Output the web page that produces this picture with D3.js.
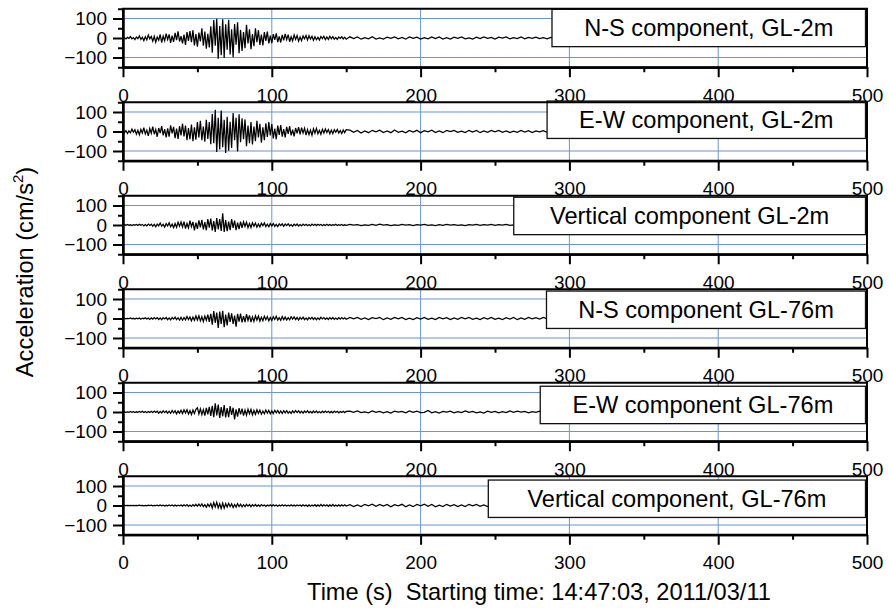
<!DOCTYPE html>
<html><head><meta charset="utf-8">
<script src="https://cdn.jsdelivr.net/npm/d3@7"></script>
<style>
body{margin:0;background:#fff}
svg{display:block}
text{font-family:"Liberation Sans",Arial,Helvetica,sans-serif;fill:#000}
</style>
</head><body><svg id="c" width="889" height="608"></svg>
<script>
// ---------------- data ----------------
const panelLabels = ["N-S component, GL-2m","E-W component, GL-2m","Vertical component GL-2m",
  "N-S component GL-76m","E-W component GL-76m","Vertical component, GL-76m"];
const xTicks = [0,100,200,300,400,500];
const xMinorTicks = [50,150,250,350,450];
const yTicks = [-100,0,100];
const yMinorTicks = [-150,-50,50,150];
const xLabel = "Time (s)  Starting time: 14:47:03, 2011/03/11";
const yLabel = "Acceleration (cm/s";
// sample times (s): 1 s steps to 150 s, then 2.5 s steps to 500 s
const headTimes = d3.range(0,151,1);
const tailTimes = d3.range(152.5,500.01,2.5);

const ns2Head = [0,2,-5,3,-2,7,-4,2,-8,5,
 -3,11,-7,4,-13,6,-9,15,-4,8,
 -16,9,-21,5,-11,18,-24,10,-14,22,
 -8,19,-25,12,-20,26,-11,34,-18,9,
 -28,17,-35,30,-15,36,-22,40,-38,20,
 -45,28,-18,50,-40,33,-55,22,-48,60,
 -75,92,-40,98,-106,62,-88,96,-102,70,
 -60,94,-85,45,-98,72,-35,80,-78,42,
 -66,30,-52,68,-28,44,-58,20,-42,50,
 -22,40,-35,18,-38,30,-15,33,-28,12,
 -26,20,-10,24,-21,8,-23,16,-12,21,
 -9,17,-19,6,-15,16,-7,13,-16,5,
 -14,11,-4,13,-10,12,-5,9,-12,6,
 -9,4,-10,8,-3,9,-8,5,-7,9,
 -4,7,-6,3,-7,5,-2,6,-5,4,-6];
const ns2Tail = [6,-3,5,-6,2,-4,7,-5,1,-5,
 4,-2,6,-4,3,-6,5,-2,4,-5,
 2,-4,6,-3,5,-5,2,-6,4,-2,
 5,-4,1,-5,4,-3,6,-2,3,-5,
 4,-1,5,-4,2,-3,5,-4,3,-2,
 4,-3,2,-4,3,-1,4,-3,2,-4,
 3,-2,4,-3,1,-3,4,-2,3,-3,
 2,-4,3,-1,3,-3,2,-3,4,-2,
 3,-3,1,-3,3,-2,3,-4,2,-2,
 3,-2,3,-3,1,-3,3,-2,3,-2,
 2,-3,3,-2,3,-1,3,-3,2,-3,
 3,-2,2,-3,3,-2,1,-3,3,-2,
 2,-3,3,-2,3,-3,2,-2,3,-1,
 3,-2,2,-3,3,-2,3,-2,2,-3];

const ew2Head = [1,-6,4,-10,3,-7,12,-4,9,-14,
 6,-17,11,-8,20,-12,7,-22,15,-9,
 25,-14,10,-27,18,-8,28,-20,12,-30,
 16,-26,32,-10,24,-34,15,-38,28,-20,
 40,-25,30,-44,18,-40,36,-50,22,-42,
 48,-30,55,-45,25,-52,60,-38,48,-65,
 90,-60,112,-105,70,-92,108,-80,60,-110,
 75,-98,50,-85,95,-45,70,-102,88,-55,
 68,-40,62,-75,30,-60,48,-66,25,-50,
 55,-30,40,-58,22,-45,42,-28,48,-20,
 38,-35,15,-40,30,-18,33,-26,12,-30,
 24,-12,27,-20,9,-25,18,-10,22,-15,
 20,-8,17,-18,10,-16,7,-19,14,-9,
 16,-12,6,-14,11,-8,13,-5,10,-12,
 7,-11,9,-4,10,-8,5,-10,8,-6,9];
const ew2Tail = [7,-4,5,-8,3,-6,6,-2,7,-5,
 3,-6,8,-4,2,-7,5,-3,6,-6,
 4,-2,7,-5,3,-6,5,-1,6,-4,
 2,-5,6,-3,5,-6,3,-4,5,-2,
 6,-4,3,-5,2,-4,5,-3,4,-5,
 3,-2,4,-4,1,-3,4,-3,2,-4,
 3,-1,4,-3,2,-4,3,-2,3,-3,
 4,-2,2,-3,3,-1,3,-3,2,-3,
 3,-2,3,-3,1,-3,3,-2,3,-2,
 2,-3,3,-2,3,-3,2,-2,3,-1,
 3,-2,2,-3,3,-2,1,-3,3,-2,
 2,-3,3,-2,3,-2,2,-3,3,-2,
 3,-1,3,-3,2,-2,3,-2,2,-3,
 3,-2,2,-3,3,-2,3,-2,2,-3];

const vert2Head = [0,2,-1,3,-2,1,-3,2,-1,3,
 -2,4,-1,3,-5,2,-4,5,-2,4,
 -6,3,-9,5,-4,10,-6,3,-11,7,
 -5,11,-9,4,-13,8,-12,14,-6,15,
 -10,17,-19,8,-15,22,-9,16,-28,12,
 -20,24,-12,26,-22,15,-27,30,-14,33,
 -28,20,-35,36,-22,30,-30,60,-36,25,
 -32,18,-27,30,-15,22,-26,12,-21,17,
 -14,16,-8,15,-14,7,-13,11,-6,10,
 -11,5,-10,9,-4,10,-8,4,-9,7,
 -5,8,-7,3,-8,6,-3,6,-7,5,
 -3,6,-5,2,-6,4,-3,5,-5,2,
 -4,5,-2,4,-4,2,-4,5,-2,4,
 -3,4,-1,3,-4,2,-3,4,-2,3,
 -3,2,-1,4,-3,2,-2,3,-3,1,-2];
const vert2Tail = [3,-1,2,-3,1,-2,3,-2,4,-1,
 2,-3,1,-2,3,-1,2,-3,2,-1,
 3,-2,1,-3,2,-2,3,-1,2,-2,
 1,-3,2,-1,3,-2,2,-1,3,-2,
 2,-1,3,-2,1,-2,2,-3,1,-2,
 2,-1,2,-2,3,-1,2,-2,1,-2,
 2,-3,1,-2,2,-1,2,-2,3,-1,
 2,-2,1,-2,2,-1,2,-3,1,-2,
 2,-1,3,-2,1,-2,2,-1,2,-2,
 1,-2,2,-1,2,-3,1,-2,2,-1,
 3,-2,1,-2,2,-1,2,-2,1,-3,
 2,-1,2,-2,3,-1,2,-2,1,-2,
 2,-1,2,-3,1,-2,2,-1,2,-2,
 1,-2,2,-1,2,-2,3,-1,2,-2];

const ns76Head = [0,1,-2,1,-1,3,-2,1,-3,2,
 -2,3,-4,2,-1,4,-3,2,-5,3,
 -3,5,-2,4,-5,3,-6,4,-2,5,
 -6,3,-7,5,-3,7,-6,4,-8,6,
 -9,5,-7,10,-6,8,-12,7,-9,13,
 -8,14,-12,9,-16,12,-10,20,-17,24,
 -32,38,-22,30,-48,35,-28,40,-44,20,
 -36,30,-18,26,-28,15,-42,24,-16,25,
 -20,12,-18,22,-10,16,-19,8,-15,14,
 -8,13,-14,7,-11,12,-6,10,-12,5,
 -10,9,-5,11,-8,4,-9,10,-6,7,
 -8,4,-7,9,-3,8,-6,5,-8,6,
 -4,7,-6,3,-7,5,-3,6,-5,4,
 -6,3,-5,6,-2,5,-4,3,-5,4,
 -3,5,-4,2,-5,4,-3,5,-2,4,-4];
const ns76Tail = [5,-2,6,-4,3,-6,4,-1,5,-6,
 3,-4,6,-2,5,-5,2,-6,4,-3,
 6,-4,2,-5,5,-2,4,-6,3,-4,
 5,-2,6,-4,2,-5,4,-3,6,-4,
 2,-5,4,-3,5,-6,3,-4,5,-2,
 4,-3,5,-2,4,-3,2,-4,3,-4,
 4,-2,3,-4,2,-3,4,-2,3,-3,
 2,-4,3,-1,3,-4,2,-3,4,-2,
 3,-3,2,-3,3,-2,3,-4,2,-2,
 3,-2,3,-3,2,-3,3,-2,3,-2,
 2,-3,3,-2,3,-1,3,-3,2,-3,
 3,-2,2,-3,3,-2,1,-3,3,-2,
 2,-3,3,-2,3,-3,2,-2,3,-1,
 3,-2,2,-3,3,-2,3,-2,2,-3];

const ew76Head = [0,1,-2,1,-2,3,-1,2,-3,1,
 -2,3,-1,4,-3,2,-4,3,-2,4,
 -3,5,-2,4,-6,3,-5,6,-3,5,
 -6,4,-7,8,-4,7,-9,5,-6,9,
 -8,11,-5,12,-10,7,-13,10,-8,14,
 22,-10,16,-14,12,-18,21,-12,26,-20,
 32,-26,45,-18,38,-30,25,-22,35,-28,
 20,-26,30,-15,22,-38,14,-24,20,-12,
 17,-18,10,-16,14,-9,13,-15,8,-12,
 11,-7,10,-11,5,-9,10,-6,8,-9,
 6,-8,9,-4,8,-7,5,-8,7,-4,
 7,-6,3,-7,6,-4,7,-3,6,-5,
 4,-6,5,-3,6,-4,3,-5,5,-3,
 5,-4,2,-5,4,-3,5,-2,4,-4,
 3,-4,5,-2,4,-4,3,-2,4,-3,3];
const ew76Tail = [4,-2,5,-3,1,-4,5,-2,3,-4,
 2,-5,4,-1,3,-4,5,-2,4,-3,
 -2,8,-4,2,-5,3,-1,4,-4,2,
 -3,5,-2,3,-4,1,-5,4,-2,3,
 -4,2,-3,5,-2,4,-1,3,-4,2,
 -2,4,-3,1,-4,3,-2,4,-3,1,
 -3,2,-4,3,-1,3,-3,4,-2,2,
 -3,1,-3,4,-2,3,-3,2,-1,3,
 -3,2,-2,3,-3,1,-3,2,-3,3,
 -2,3,-1,3,-3,2,-3,3,-2,1,
 -3,2,-3,3,-2,3,-1,2,-3,3,
 -2,3,-3,1,-2,3,-3,2,-3,2,
 -1,3,-3,2,-2,3,-3,1,-3,3,
 -2,2,-3,3,-1,3,-2,2,-3,2];

const vert76Head = [0,1,-1,1,0,1,-1,1,-1,0,
 -1,2,-1,1,-2,1,-2,2,0,2,
 -2,1,-1,2,-2,3,-1,2,-3,1,
 -2,3,-1,3,-3,2,-3,2,-2,3,
 -3,4,-2,5,-4,2,-5,4,-3,6,
 -4,7,-3,8,-6,4,-9,7,-5,10,
 -13,15,-8,17,-12,9,-16,12,-14,10,
 -8,11,-6,9,-10,5,-8,9,-5,7,
 -7,4,-6,6,-3,5,-6,4,-3,5,
 -4,3,-4,5,-2,3,-4,3,-2,4,
 -3,4,-2,3,-4,2,-3,4,-2,3,
 -3,2,-2,4,-3,2,-3,3,-1,3,
 -3,4,-2,3,-4,3,-4,2,-3,4,
 -4,3,-3,5,-3,4,-2,4,-4,3,
 -3,5,-3,2,-4,3,-3,4,-2,4,-3];
const vert76Tail = [4,-6,3,-5,6,-2,7,-4,6,-3,
 5,-7,4,-2,6,-7,3,-6,5,-2,
 7,-4,5,-7,2,-5,6,-3,4,-6,
 3,-5,6,-2,5,-4,3,-6,4,-3,
 5,-2,4,-4,3,-5,2,-4,4,-2,
 4,-3,2,-4,3,-1,4,-3,2,-4,
 3,-2,4,-3,1,-3,4,-2,3,-3,
 2,-4,3,-1,3,-3,2,-3,4,-2,
 3,-3,1,-3,3,-2,3,-4,2,-2,
 3,-2,3,-3,1,-3,3,-2,3,-2,
 2,-3,3,-2,3,-1,3,-3,2,-3,
 3,-2,2,-3,3,-2,1,-3,3,-2,
 2,-3,3,-2,3,-3,2,-2,3,-1,
 3,-2,2,-3,3,-2,3,-2,2,-3];

const heads = [ns2Head, ew2Head, vert2Head, ns76Head, ew76Head, vert76Head];
const tails = [ns2Tail, ew2Tail, vert2Tail, ns76Tail, ew76Tail, vert76Tail];

// ---------------- layout (not data) ----------------
const L = 123, R = 867;
const top0 = 8.75, step = 93.5, ph = 58.5;
const boxLeftT = [288.3, 285.0, 262.6, 284.6, 280.4, 245.5]; // legend box left edge in seconds
const boxDy = [0.5, -1.2, 1.5, 1.8, 3.5, 3.8];
const boxRight = 865.5, boxH = 37.4;
const gridColor = "#6b93d6";

const svg = d3.select("#c");
const x = d3.scaleLinear().domain([0,500]).range([L,R]);

heads.forEach((head,i) => {
  const top = top0 + i*step;
  const y = d3.scaleLinear().domain([-150,150]).range([top+ph, top]);
  const g = svg.append("g");

  // grid
  g.selectAll(".vg").data([100,200,300,400]).join("line")
    .attr("x1", d=>x(d)).attr("x2", d=>x(d)).attr("y1", top).attr("y2", top+ph)
    .attr("stroke", gridColor).attr("stroke-width", 1);
  g.selectAll(".hg").data([-100,100]).join("line")
    .attr("x1", L).attr("x2", R).attr("y1", d=>y(d)).attr("y2", d=>y(d))
    .attr("stroke", gridColor).attr("stroke-width", 1.2);

  // trace
  const pts = headTimes.map((t,j)=>[t, head[j]]).concat(tailTimes.map((t,j)=>[t, tails[i][j]]));
  const line = d3.line().x(d=>x(d[0])).y(d=>y(d[1]));
  g.append("path").attr("d", line(pts)).attr("fill","none")
    .attr("stroke","#000").attr("stroke-width",1.25).attr("stroke-linejoin","miter");

  // legend box
  const bx = x(boxLeftT[i]), by = top + boxDy[i];
  g.append("rect").attr("x", bx).attr("y", by).attr("width", boxRight-bx).attr("height", boxH)
    .attr("fill","#fff").attr("stroke","#111").attr("stroke-width",1.3);
  g.append("text").attr("x", (bx+boxRight)/2).attr("y", by+boxH/2+8.4)
    .attr("text-anchor","middle").attr("font-size", 23.6).text(panelLabels[i]);

  // frame
  g.append("rect").attr("x", L).attr("y", top).attr("width", R-L).attr("height", ph)
    .attr("fill","none").attr("stroke","#000").attr("stroke-width",2);

  // axes
  const xa = g.append("g").attr("transform", `translate(0,${top+ph})`)
    .call(d3.axisBottom(x).tickValues(xTicks).tickSize(10).tickSizeOuter(0).tickPadding(11).tickFormat(d3.format("d")));
  const xm = g.append("g").attr("transform", `translate(0,${top+ph})`)
    .call(d3.axisBottom(x).tickValues(xMinorTicks).tickSize(5).tickSizeOuter(0).tickFormat(""));
  const ya = g.append("g").attr("transform", `translate(${L},0)`)
    .call(d3.axisLeft(y).tickValues(yTicks).tickSize(10).tickSizeOuter(0).tickPadding(6));
  const ym = g.append("g").attr("transform", `translate(${L},0)`)
    .call(d3.axisLeft(y).tickValues(yMinorTicks).tickSize(5).tickSizeOuter(0).tickFormat(""));
  [xa,xm,ya,ym].forEach(a => {
    a.select(".domain").attr("stroke","#000").attr("stroke-width",2);
    a.selectAll(".tick line").attr("stroke","#000").attr("stroke-width",2);
    a.selectAll("text").attr("font-size",19).attr("font-family",'"Liberation Sans",Arial,sans-serif').attr("fill","#000");
  });
});

// axis titles
const yl = svg.append("text").attr("transform","translate(32.5,272) rotate(-90)")
  .attr("text-anchor","middle").attr("font-size",23.6);
yl.append("tspan").text(yLabel);
yl.append("tspan").attr("font-size",15).attr("dy",-10).text("2");
yl.append("tspan").attr("dy",10).text(")");

svg.append("text").attr("x",539).attr("y",600).attr("text-anchor","middle")
  .attr("font-size",23.6).style("white-space","pre").text(xLabel);
</script>
</body></html>
